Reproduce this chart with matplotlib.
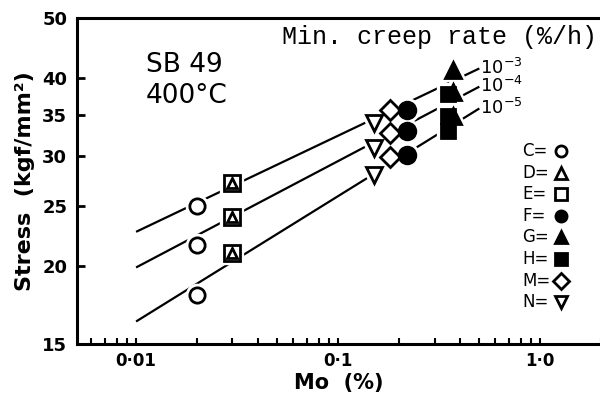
import matplotlib
matplotlib.use("Agg")
import matplotlib.pyplot as plt
from matplotlib.lines import Line2D
from matplotlib.ticker import LogLocator, NullLocator, NullFormatter

# fitted lines (stress at both ends of the Mo range)
line_mo = [0.01, 0.5]
stress_1e3 = [22.7, 41.5]
stress_1e4 = [19.9, 38.8]
stress_1e5 = [16.3, 35.8]
rate_labels = ["10$^{-3}$", "10$^{-4}$", "10$^{-5}$"]

# steels: Mo content (%) and stress at 1e-3, 1e-4, 1e-5 %/h
c_mo, c_stress = [0.02, 0.02, 0.02], [25.0, 21.6, 18.0]
d_mo, d_stress = [0.03, 0.03, 0.03], [27.2, 24.0, 21.0]
e_mo, e_stress = [0.03, 0.03, 0.03], [27.2, 24.0, 21.0]
f_mo, f_stress = [0.22, 0.22, 0.22], [35.6, 33.0, 30.1]
g_mo, g_stress = [0.37, 0.37, 0.37], [41.3, 38.0, 34.8]
h_mo, h_stress = [0.35, 0.35, 0.35], [37.8, 34.8, 33.0]
m_mo, m_stress = [0.18, 0.18, 0.18], [35.6, 32.7, 29.9]
n_mo, n_stress = [0.15, 0.15, 0.15], [33.9, 30.9, 28.0]

y_ticks = [15, 20, 25, 30, 35, 40, 50]
x_ticks = [0.01, 0.1, 1.0]
x_tick_labels = ["0·01", "0·1", "1·0"]
legend_order = ["C", "D", "E", "F", "G", "H", "M", "N"]

W, H = 600, 394
fig = plt.figure(figsize=(W / 100, H / 100), dpi=100)
ax = fig.add_axes([77 / W, 50 / H, 524 / W, 326 / H])
ax.set_xscale("log")
ax.set_yscale("log")
ax.set_xlim(0.0051, 2.0)
ax.set_ylim(15, 50)

for s, lab in zip([stress_1e3, stress_1e4, stress_1e5], rate_labels):
    ax.plot(line_mo, s, color="black", lw=1.6, zorder=1, solid_capstyle="butt")
    ax.annotate(lab, (line_mo[-1], s[-1]), xytext=(0.5, -4), textcoords="offset points",
                ha="left", va="baseline", fontsize=13)

series = [
    ("C", c_mo, c_stress, "o", "white", 11),
    ("E", e_mo, e_stress, "s", "white", 11),
    ("D", d_mo, d_stress, "^", "white", 7),
    ("M", m_mo, m_stress, "D", "white", 10),
    ("N", n_mo, n_stress, "v", "white", 11),
    ("F", f_mo, f_stress, "o", "black", 12),
    ("H", h_mo, h_stress, "s", "black", 10),
    ("G", g_mo, g_stress, "^", "black", 12),
]
# white halo under each marker so the lines break around the points
for name, x, y, mk, fc, ms in series:
    ax.plot(x, y, ls="none", marker=mk, ms=ms, mfc="white", mec="white", mew=6, zorder=2)
for name, x, y, mk, fc, ms in series:
    ax.plot(x, y, ls="none", marker=mk, ms=ms, mfc=fc, mec="black", mew=2, zorder=3)

ax.set_yticks(y_ticks)
ax.set_yticklabels([str(v) for v in y_ticks], fontweight="bold")
ax.yaxis.set_minor_locator(NullLocator())
ax.set_xticks(x_ticks)
ax.set_xticklabels(x_tick_labels, fontweight="bold")
ax.xaxis.set_minor_locator(LogLocator(base=10, subs=range(2, 10)))
ax.xaxis.set_minor_formatter(NullFormatter())
ax.tick_params(axis="y", which="major", direction="in", length=6, width=2, labelsize=13, pad=7)
ax.tick_params(axis="x", which="both", direction="in", length=4.5, width=1.5, labelsize=12, pad=6)

for side in ["left", "bottom", "top"]:
    ax.spines[side].set_linewidth(2.2)
ax.spines["right"].set_visible(False)

ax.set_ylabel("Stress  (kgf/mm²)", fontsize=16, fontweight="bold", labelpad=5)
ax.set_xlabel("Mo  (%)", fontsize=15, fontweight="bold", labelpad=2)

fig.text(146 / W, 1 - 72 / H, "SB 49", fontsize=19, ha="left", va="baseline")
fig.text(146 / W, 1 - 103 / H, "400°C", fontsize=19, ha="left", va="baseline")
fig.text(282 / W, 1 - 44 / H, "Min. creep rate (%/h)", fontsize=18,
         family="Liberation Mono", ha="left", va="baseline")

# key on the right: letter label, then the symbol in its own column
styles = {name: (mk, fc) for name, x, y, mk, fc, ms in series}
for i, name in enumerate(legend_order):
    yf = 1 - (151 + i * 21.6) / H
    fig.text(522 / W, yf, name + "=", fontsize=12, ha="left", va="center")
    fig.add_artist(Line2D([561 / W], [yf], transform=fig.transFigure, ls="none",
                          marker=styles[name][0], mfc=styles[name][1], mec="black",
                          mew=2, ms=8))

fig.savefig("out.png", dpi=100)
